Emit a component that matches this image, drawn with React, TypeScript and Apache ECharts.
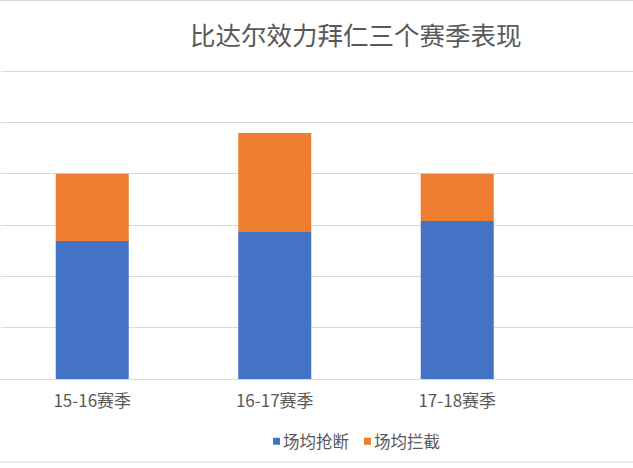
import React, { useEffect, useRef } from "react";
import * as echarts from "echarts";

const seasons = ["15-16赛季", "16-17赛季", "17-18赛季"];
const tackles = [2.69, 2.88, 3.08];
const interceptions = [1.31, 1.91, 0.92];
const seriesNames = ["场均抢断", "场均拦截"];
const titleText = "比达尔效力拜仁三个赛季表现";

const FONT = '"Noto Sans CJK SC", "Noto Sans", sans-serif';
const TEXT = "#595959";
const LINE = "#d9d9d9";

export default function App() {
  const ref = useRef<HTMLDivElement>(null);
  useEffect(() => {
    if (!ref.current) return;
    const chart = echarts.init(ref.current, undefined, { renderer: "svg" });
    chart.setOption({
      animation: false,
      backgroundColor: "#ffffff",
      title: {
        text: titleText,
        left: 185,
        top: 16,
        textStyle: { fontFamily: FONT, fontSize: 25.5, fontWeight: "normal", color: TEXT },
      },
      legend: {
        data: seriesNames,
        left: 268,
        top: 428,
        icon: "rect",
        itemWidth: 7,
        itemHeight: 7,
        itemGap: 15,
        textStyle: { fontFamily: FONT, fontSize: 16.5, color: TEXT, padding: [0, 0, 0, -2] },
      },
      grid: { left: 1, top: 71, width: 730, bottom: 89, containLabel: false },
      xAxis: {
        type: "category",
        data: [...seasons, ""],
        axisLine: { show: true, lineStyle: { color: LINE, width: 1 } },
        axisTick: { show: false },
        axisLabel: { fontFamily: FONT, fontSize: 17, color: TEXT, margin: 12 },
      },
      yAxis: {
        type: "value",
        min: 0,
        max: 6,
        interval: 1,
        axisLabel: { show: false },
        axisLine: { show: false },
        axisTick: { show: false },
        splitLine: { show: true, lineStyle: { color: LINE, width: 1 } },
      },
      graphic: [
        {
          type: "rect",
          shape: { x: -20, y: 0.5, width: 800, height: 461.5 },
          style: { fill: "none", stroke: LINE, lineWidth: 1 },
          silent: true,
        },
      ],
      series: [
        {
          name: seriesNames[0],
          type: "bar",
          stack: "total",
          data: tackles,
          barCategoryGap: "60%",
          itemStyle: { color: "#4472C4" },
        },
        {
          name: seriesNames[1],
          type: "bar",
          stack: "total",
          data: interceptions,
          barCategoryGap: "60%",
          itemStyle: { color: "#ED7D31" },
        },
      ],
    });
    return () => chart.dispose();
  }, []);
  return (
    <div
      style={{
        position: "fixed",
        left: 0,
        top: 0,
        width: 633,
        height: 468,
        overflow: "hidden",
        background: "#ffffff",
      }}
    >
      <div ref={ref} style={{ width: 740, height: 468 }} />
    </div>
  );
}
